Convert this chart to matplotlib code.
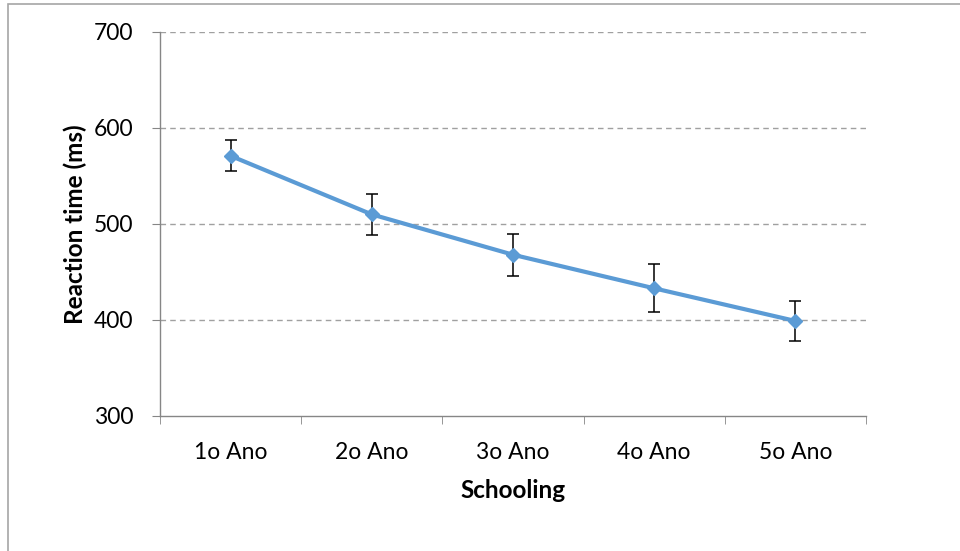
import matplotlib.pyplot as plt
from matplotlib.patches import Rectangle

categories = ['1o Ano', '2o Ano', '3o Ano', '4o Ano', '5o Ano']
reaction_time = [571, 510, 468, 433, 399]
error = [16, 21, 22, 25, 21]
y_ticks = [300, 400, 500, 600, 700]

plt.rcParams['font.family'] = ['Lato', 'DejaVu Sans']

fig = plt.figure(figsize=(9.6, 5.51), dpi=100)
ax = fig.add_axes([160 / 960, 1 - 416 / 551, 706 / 960, 384 / 551])

x = list(range(len(categories)))
ax.errorbar(x, reaction_time, yerr=error, color='#5B9BD5', lw=3,
            marker='D', ms=7, ecolor='black', elinewidth=1.1,
            capsize=4.5, capthick=1.1, zorder=3)

ax.set_xlim(-0.5, len(categories) - 0.5)
ax.set_ylim(300, 700)
ax.set_yticks(y_ticks)
ax.set_xticks(x)
ax.set_xticklabels(categories)
ax.set_xticks([i - 0.5 for i in range(len(categories) + 1)], minor=True)

for y in y_ticks[1:]:
    ax.axhline(y, color='#A0A0A0', lw=1, ls=(0, (4, 3)), zorder=1)

for s in ['top', 'right']:
    ax.spines[s].set_visible(False)
for s in ['left', 'bottom']:
    ax.spines[s].set_color('#868686')
    ax.spines[s].set_linewidth(1)

ax.tick_params(axis='y', length=6, color='#868686', pad=13, labelsize=16.5)
ax.tick_params(axis='x', which='major', length=0, pad=19, labelsize=16.5)
ax.tick_params(axis='x', which='minor', length=6, color='#868686')

ax.set_xlabel('Schooling', fontsize=17.5, fontweight='bold', labelpad=11)
ax.set_ylabel('Reaction time (ms)', fontsize=17.5, fontweight='bold', labelpad=5)

# outer chart frame (only left/top visible in crop)
fig.patches.append(Rectangle((7.5 / 960, -0.1), 1.2, 1 - 3.5 / 551 + 0.1,
                             transform=fig.transFigure, fill=False,
                             edgecolor='#A6A6A6', lw=1.2))

plt.savefig('out.png', dpi=100)
plt.close()
